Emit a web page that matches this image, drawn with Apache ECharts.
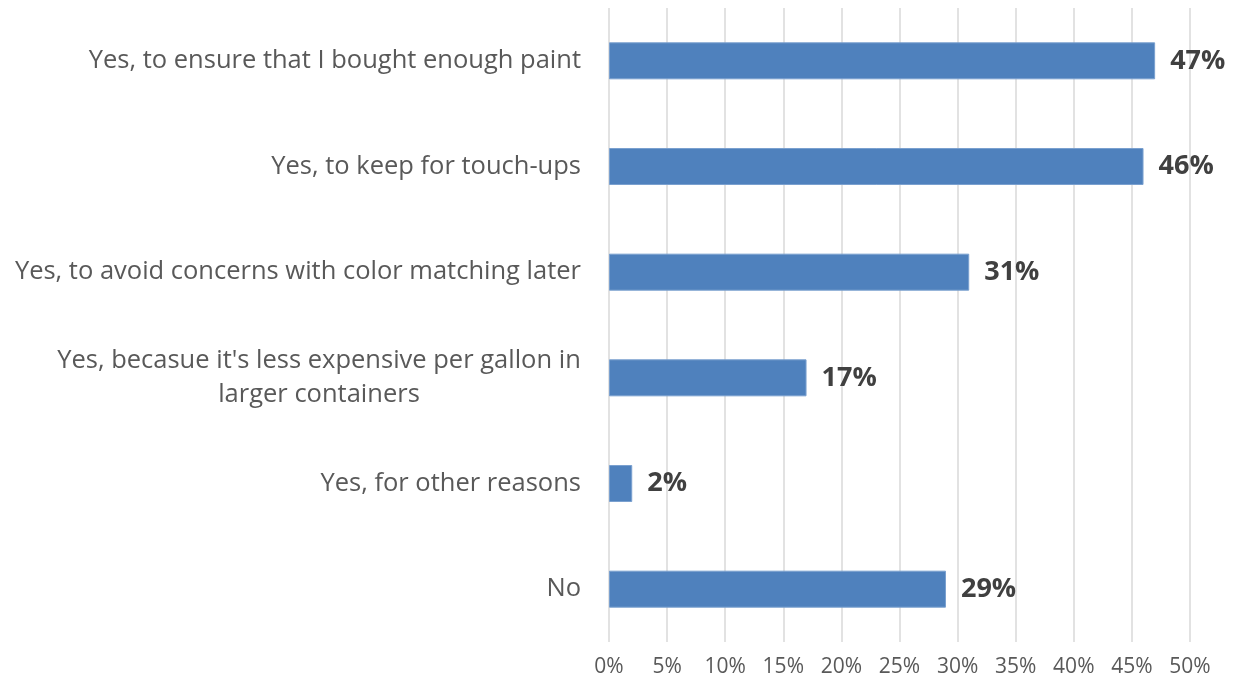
<!DOCTYPE html>
<html>
<head>
<meta charset="utf-8">
<style>
  html, body { margin: 0; padding: 0; background: #ffffff; }
  #chart { width: 1234px; height: 685px; }
</style>
<script src="https://cdn.jsdelivr.net/npm/echarts@6/dist/echarts.min.js"></script>
</head>
<body>
<div id="chart"></div>
<script>
// Survey answers, listed top to bottom
const categories = [
  "Yes, to ensure that I bought enough paint",
  "Yes, to keep for touch-ups",
  "Yes, to avoid concerns with color matching later",
  "Yes, becasue it's less expensive per gallon in\nlarger containers",
  "Yes, for other reasons",
  "No"
];
// Share of respondents, percent
const shares = [47, 46, 31, 17, 2, 29];
// Horizontal axis ticks
const tickStep = 5;
const tickMax = 50;

const FONT = "Open Sans";
const LABEL_SIZE = 25.5;

// width of the longest line of a multi-line label, used to centre its lines
function textWidth(str, size, weight) {
  const ctx = document.createElement("canvas").getContext("2d");
  ctx.font = (weight || "normal") + " " + size + "px '" + FONT + "'";
  return Math.ceil(ctx.measureText(str).width);
}

const chart = echarts.init(document.getElementById("chart"), null, { renderer: "canvas" });

function buildOption() {
  const multiWidth = {};
  categories.forEach(function (c, i) {
    if (c.indexOf("\n") >= 0) {
      multiWidth[i] = Math.max.apply(null, c.split("\n").map(function (l) { return textWidth(l, LABEL_SIZE); }));
    }
  });
  return {
    animation: false,
    grid: { left: 609, right: 44, top: 8, bottom: 43, containLabel: false },
    xAxis: {
      type: "value",
      min: 0,
      max: tickMax,
      interval: tickStep,
      axisLine: { show: false },
      axisTick: { show: false },
      splitLine: { show: true, lineStyle: { color: "#d9d9d9", width: 1.5 } },
      axisLabel: {
        formatter: "{value}%",
        color: "#595959",
        fontFamily: FONT,
        fontSize: 21,
        margin: 15
      }
    },
    yAxis: {
      type: "category",
      inverse: true,
      data: categories,
      axisLine: { show: false },
      axisTick: { show: false },
      splitLine: { show: false },
      axisLabel: {
        color: "#595959",
        fontFamily: FONT,
        fontSize: LABEL_SIZE,
        margin: 28,
        lineHeight: 34,
        formatter: function (value, idx) {
          if (multiWidth[idx] !== undefined) {
            return value.split("\n").map(function (l) { return "{c|" + l + "}"; }).join("\n");
          }
          return value;
        },
        rich: {
          c: {
            align: "center",
            width: multiWidth[3] || 0,
            color: "#595959",
            fontFamily: FONT,
            fontSize: LABEL_SIZE,
            lineHeight: 34
          }
        }
      }
    },
    series: [{
      type: "bar",
      data: shares,
      barWidth: 37,
      itemStyle: { color: "#4f81bd", borderColor: "#7aa0cf", borderWidth: 1 },
      label: {
        show: true,
        position: "right",
        distance: 15,
        formatter: "{c}%",
        color: "#404040",
        fontFamily: FONT,
        fontWeight: "bold",
        fontSize: 27
      }
    }]
  };
}

chart.setOption(buildOption());
</script>
</body>
</html>
